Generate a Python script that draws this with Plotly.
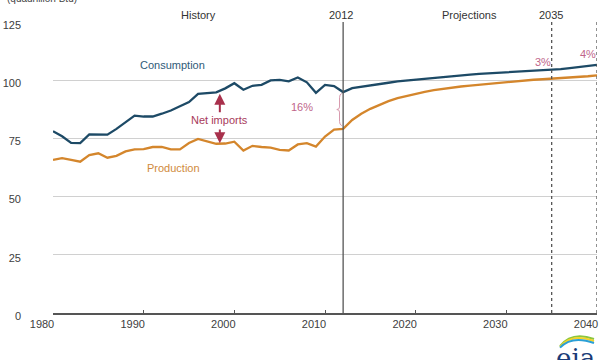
import plotly.graph_objects as go

hist_years = list(range(1980, 2013))
hist_consumption = [78.1, 75.9, 73.1, 73.0, 76.7, 76.6, 76.6, 79.1, 82.0, 84.8, 84.4, 84.4, 85.6,
                    87.0, 88.8, 90.6, 94.1, 94.4, 94.8, 96.5, 98.7, 95.9, 97.6, 98.0, 99.9, 100.1,
                    99.5, 101.2, 99.1, 94.6, 98.0, 97.5, 94.9]
hist_production = [65.8, 66.5, 65.8, 65.0, 67.8, 68.6, 66.7, 67.5, 69.4, 70.3, 70.4, 71.3, 71.3,
                   70.3, 70.3, 73.0, 74.8, 73.8, 72.7, 72.8, 73.6, 69.8, 71.8, 71.3, 71.0, 70.1,
                   69.8, 72.4, 73.0, 71.5, 75.8, 78.8, 79.1]

proj_years = list(range(2012, 2041))
proj_consumption = [94.9, 96.6, 97.1, 97.7, 98.3, 98.9, 99.5, 99.9, 100.3, 100.7, 101.1, 101.5,
                    101.9, 102.2, 102.4, 102.7, 102.9, 103.1, 103.3, 103.5, 103.7, 103.9, 104.1,
                    104.4, 104.8, 105.2, 105.6, 106.1, 106.6]
proj_production = [79.1, 82.9, 85.6, 87.7, 89.5, 91.0, 92.3, 93.3, 94.2, 95.0, 95.7, 96.3, 96.8,
                   97.3, 97.7, 98.1, 98.5, 98.9, 99.3, 99.6, 99.9, 100.2, 100.4, 100.6, 100.8,
                   101.0, 101.3, 101.7, 102.1]

x_ticks = [1980, 1990, 2000, 2010, 2020, 2030, 2040]
y_ticks = [0, 25, 50, 75, 100, 125]

CONS = "#1d4a66"
PROD = "#d4862c"
RED = "#a8304c"
PINK = "#c0658a"
FONT = "Liberation Sans, Arial, sans-serif"

years = hist_years + proj_years[1:]
consumption = hist_consumption + proj_consumption[1:]
production = hist_production + proj_production[1:]

fig = go.Figure()
fig.add_trace(go.Scatter(x=years, y=consumption, mode="lines",
                         line=dict(color=CONS, width=2.3), hoverinfo="skip"))
fig.add_trace(go.Scatter(x=years, y=production, mode="lines",
                         line=dict(color=PROD, width=2.3), hoverinfo="skip"))

shapes = [
    dict(type="line", xref="x", yref="paper", x0=2012, x1=2012, y0=0, y1=1,
         line=dict(color="#555555", width=1.3)),
    dict(type="line", xref="x", yref="paper", x0=2035, x1=2035, y0=0, y1=1,
         line=dict(color="#555555", width=1.3, dash="dot")),
    dict(type="line", xref="x", yref="paper", x0=2040, x1=2040, y0=0, y1=1,
         line=dict(color="#555555", width=1.3, dash="dot")),
    # brace for 16%
    dict(type="path", xref="x", yref="y",
         path="M 2011.85,94.3 Q 2011.6,94.0 2011.6,92.5 L 2011.6,88.5 Q 2011.6,87.4 2011.3,87.4 "
              "Q 2011.6,87.4 2011.6,86.3 L 2011.6,82.3 Q 2011.6,80.8 2011.85,80.5",
         line=dict(color="#d89aae", width=1)),
]

# EIA logo arcs (paper coords)
def px(xp, yp):
    return (xp - 53) / 544, (313 - yp) / 291

arc_specs = [("#8cc63f", 0), ("#f5d327", 2), ("#2a9fd6", 4)]
for col, off in arc_specs:
    x0, y0 = px(560, 346 + off * 0.4)
    cx, cy = px(572, 331 + off)
    x1, y1 = px(594, 339 + off)
    shapes.append(dict(type="path", xref="paper", yref="paper",
                       path=f"M {x0},{y0} Q {cx},{cy} {x1},{y1}",
                       line=dict(color=col, width=2)))

annotations = [
    dict(text="(quadrillion Btu)", xref="paper", yref="paper", x=-0.088, y=1,
         xanchor="left", yanchor="bottom", yshift=16, showarrow=False,
         font=dict(size=10, color="#444444", family=FONT)),
    dict(text="History", xref="x", yref="paper", x=1996.0, y=1, yanchor="middle",
         yshift=7, showarrow=False, font=dict(size=11, color="#333333", family=FONT)),
    dict(text="2012", xref="x", yref="paper", x=2011.8, y=1, yanchor="middle",
         yshift=7, showarrow=False, font=dict(size=11, color="#333333", family=FONT)),
    dict(text="Projections", xref="x", yref="paper", x=2025.9, y=1, yanchor="middle",
         yshift=7, showarrow=False, font=dict(size=11, color="#333333", family=FONT)),
    dict(text="2035", xref="x", yref="paper", x=2034.9, y=1, yanchor="middle",
         yshift=7, showarrow=False, font=dict(size=11, color="#333333", family=FONT)),
    dict(text="Consumption", xref="x", yref="y", x=1993.2, y=106.7, showarrow=False,
         font=dict(size=11, color="#2f5b78", family=FONT)),
    dict(text="Production", xref="x", yref="y", x=1993.3, y=62.5, showarrow=False,
         font=dict(size=11, color="#d08a3c", family=FONT)),
    dict(text="Net imports", xref="x", yref="y", x=1998.4, y=82.7, showarrow=False,
         font=dict(size=11, color="#a83a5a", family=FONT)),
    dict(text="16%", xref="x", yref="y", x=2007.5, y=88.7, showarrow=False,
         font=dict(size=11, color=PINK, family=FONT)),
    dict(text="3%", xref="x", yref="y", x=2034.0, y=107.8, showarrow=False,
         font=dict(size=11, color=PINK, family=FONT)),
    dict(text="4%", xref="x", yref="y", x=2039.0, y=111.4, showarrow=False,
         font=dict(size=11, color=PINK, family=FONT)),
    # net imports arrows
    dict(text="", xref="x", yref="y", axref="x", ayref="y", x=1998.4, y=94.2,
         ax=1998.4, ay=85.6, showarrow=True, arrowhead=2, arrowsize=1.1,
         arrowwidth=2, arrowcolor=RED),
    dict(text="", xref="x", yref="y", axref="x", ayref="y", x=1998.4, y=72.9,
         ax=1998.4, ay=79.5, showarrow=True, arrowhead=2, arrowsize=1.1,
         arrowwidth=2, arrowcolor=RED),
    # EIA logo text
    dict(text="eia", xref="paper", yref="paper", x=px(575, 0)[0], y=px(0, 341)[1],
         xanchor="center", yanchor="top", showarrow=False,
         font=dict(size=26, color="#1b3c78", family="DejaVu Serif, serif")),
]

fig.update_layout(
    width=606, height=360,
    margin=dict(l=53, r=9, t=22, b=47),
    paper_bgcolor="white", plot_bgcolor="white",
    showlegend=False,
    shapes=shapes,
    annotations=annotations,
    font=dict(family=FONT, size=11, color="#404040"),
)
fig.update_xaxes(range=[1980, 2040], tickvals=x_ticks, ticktext=[str(v) for v in x_ticks],
                 showgrid=False, zeroline=False, showline=True, linecolor="#555555",
                 linewidth=1.5, ticks="inside", ticklen=3, tickcolor="#555555",
                 ticklabelshift=-11, automargin=False,
                 tickfont=dict(size=11, color="#404040", family=FONT))
fig.update_yaxes(range=[0, 125], tickvals=y_ticks, ticktext=[str(v) for v in y_ticks],
                 showgrid=True, gridcolor="#d0d0d0", gridwidth=1.2, zeroline=False,
                 showline=False, ticks="", ticklabelstandoff=31, ticklabelshift=3,
                 automargin=False,
                 tickfont=dict(size=11, color="#404040", family=FONT))

fig.write_html("out.html")
